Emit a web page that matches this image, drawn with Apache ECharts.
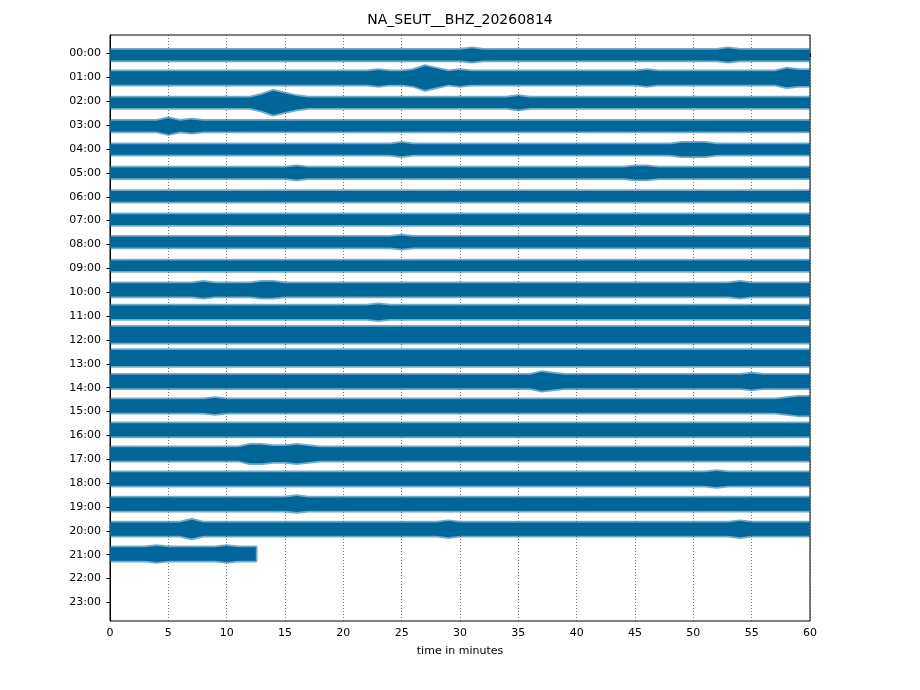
<!DOCTYPE html>
<html>
<head>
<meta charset="utf-8">
<script src="https://cdn.jsdelivr.net/npm/echarts@6/dist/echarts.min.js"></script>
<style>
  html, body { margin: 0; padding: 0; background: #fff; }
  #chart { width: 920px; height: 690px; }
</style>
</head>
<body>
<div id="chart"></div>
<script>
// dayplot of one station channel, one line per hour
const chartTitle = 'NA_SEUT__BHZ_20260814'

const hourLabels = [
  '00:00', '01:00', '02:00', '03:00', '04:00', '05:00', '06:00', '07:00',
  '08:00', '09:00', '10:00', '11:00', '12:00', '13:00', '14:00', '15:00',
  '16:00', '17:00', '18:00', '19:00', '20:00', '21:00', '22:00', '23:00'
]
const hourTicks = hourLabels.map((_, i) => i)

// minute where each hourly trace stops (data ends at 21:12:30)
const traceEnd = [
  60, 60, 60, 60, 60, 60, 60, 60, 60, 60, 60,
  60, 60, 60, 60, 60, 60, 60, 60, 60, 60, 12.5
]

// mean level of each hourly line, in line-spacing units (down is positive)
const traceOffset = [
  0.06, 0.02, 0.06, 0.04, 0.02, 0, -0.02, -0.04, -0.1, -0.11, -0.1,
  -0.16, -0.22, -0.24, -0.26, -0.23, -0.23, -0.22, -0.17, -0.12, -0.07, -0.03
]

// half-width of the trace envelope, one digit per minute
const traceEnvelope = [
  '4444444444 4444444444 4444444444 4544444444 4444444444 4445444444',
  '5555555555 5555555555 5556556975 6555555555 5555556555 5555555576',
  '4444444444 4446975444 4444444444 4444454444 4444444444 4444444444',
  '4444464544 4444444444 4444444444 4444444444 4444444444 4444444444',
  '4444444444 4444444444 4444454444 4444444444 4444444445 5544444444',
  '4444444444 4444445444 4444444444 4444444444 4444455444 4444444444',
  '4444444444 4444444444 4444444444 4444444444 4444444444 4444444444',
  '4444444444 4444444444 4444444444 4444444444 4444444444 4444444444',
  '4444444444 4444444444 4444454444 4444444444 4444444444 4444444444',
  '4444444444 4444444444 4444444444 4444444444 4444444444 4444444444',
  '5555555565 5556655555 5555555555 5555555555 5555555555 5555655555',
  '5555555555 5555555555 5556555555 5555555555 5555555555 5555555555',
  '6666666666 6666666666 6666666666 6666666666 6666666666 6666666666',
  '6666666666 6666666666 6666666666 6666666666 6666666666 6666666666',
  '5555555555 5555555555 5555555555 5555555765 5555555555 5555565555',
  '5555555556 5555555555 5555555555 5555555555 5555555555 5555555567',
  '5555555555 5555555555 5555555555 5555555555 5555555555 5555555555',
  '5555555555 5577667655 5555555555 5555555555 5555555555 5555555555',
  '5555555555 5555555555 5555555555 5555555555 5555555555 5565555555',
  '5555555555 5555556555 5555555555 5555555555 5555555555 5555555555',
  '5555555755 5555555555 5555555556 5555555555 5555555555 5555655555',
  '5555655555 655'
]

// one envelope digit in line-spacing units
const AMP_UNIT = 0.056
const TRACE_COLOR = '#006699'
const FONT = 'DejaVu Sans'

const envelopes = traceEnvelope.map((s) => s.replace(/\s/g, '').split('').map(Number))

const chart = echarts.init(document.getElementById('chart'), null, { renderer: 'canvas' })

// each hour is drawn as a filled band between upper and lower envelope
const renderTrace = (params, api) => {
  const h = api.value(1)
  const env = envelopes[h]
  const mid = h + traceOffset[h]
  const upper = []
  const lower = []
  env.forEach((d, i) => {
    upper.push(api.coord([i, mid - d * AMP_UNIT]))
    lower.push(api.coord([i, mid + d * AMP_UNIT]))
  })
  const last = env[env.length - 1] * AMP_UNIT
  upper.push(api.coord([traceEnd[h], mid - last]))
  lower.push(api.coord([traceEnd[h], mid + last]))
  return {
    type: 'polygon',
    shape: { points: upper.concat(lower.reverse()) },
    style: {
      fill: TRACE_COLOR,
      stroke: 'rgba(0,102,153,0.55)',
      lineWidth: 3.5,
      lineJoin: 'round'
    }
  }
}

chart.setOption({
  animation: false,
  backgroundColor: '#fff',
  title: {
    text: chartTitle,
    left: 'center',
    top: 8,
    textStyle: { fontFamily: FONT, fontSize: 14, fontWeight: 'normal', color: '#000' }
  },
  grid: {
    left: 110, right: 110, top: 35, bottom: 69,
    show: true, borderColor: '#000', borderWidth: 1, backgroundColor: 'transparent'
  },
  xAxis: {
    type: 'value',
    min: 0, max: 60, interval: 5,
    name: 'time in minutes',
    nameLocation: 'middle',
    nameGap: 25,
    nameTextStyle: { fontFamily: FONT, fontSize: 11, color: '#000' },
    axisLine: { show: true, lineStyle: { color: '#000', width: 1 } },
    axisTick: { show: true, inside: false, length: 3.5, lineStyle: { color: '#000' } },
    axisLabel: { fontFamily: FONT, fontSize: 11, color: '#000', margin: 7 },
    splitLine: { show: true, lineStyle: { color: '#333', width: 0.7, type: [1, 2] } }
  },
  yAxis: {
    type: 'value',
    inverse: true,
    min: -0.78, max: 23.78,
    axisLine: { show: true, lineStyle: { color: '#000', width: 1 } },
    axisTick: { show: true, inside: false, length: 3.5, customValues: hourTicks, lineStyle: { color: '#000' } },
    axisLabel: {
      fontFamily: FONT, fontSize: 11, color: '#000', margin: 9,
      customValues: hourTicks,
      formatter: (v) => hourLabels[Math.round(v)]
    },
    splitLine: { show: false }
  },
  series: [{
    type: 'custom',
    clip: true,
    renderItem: renderTrace,
    data: envelopes.map((_, h) => [30, h])
  }]
})
</script>
</body>
</html>
